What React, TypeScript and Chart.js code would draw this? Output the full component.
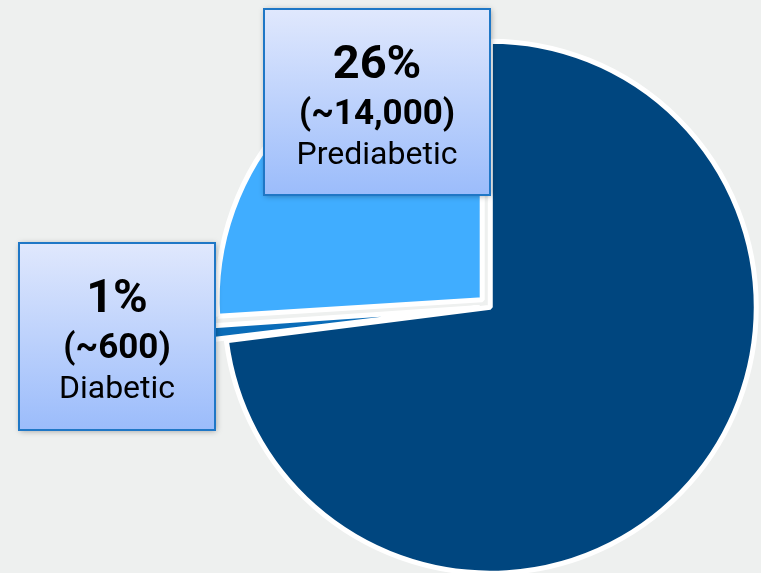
import React, { useEffect, useRef } from "react";
import { Chart, registerables } from "chart.js";

Chart.register(...registerables);

const categories = ["Normal", "Diabetic", "Prediabetic"];
const percents = [73, 1, 26];
const approxCounts = ["", "~600", "~14,000"];
const sliceColors = ["#00467f", "#0a6cb8", "#40adff"];
const sliceOffsets = [4, 40, 40];
const labelled = [false, true, true];

// label box layout (pixels) for labelled categories
const boxLayout: Record<string, { x: number; y: number; w: number; h: number }> = {
  Diabetic: { x: 19, y: 243, w: 196, h: 187 },
  Prediabetic: { x: 264, y: 9, w: 226, h: 186 },
};

const labelBoxPlugin = {
  id: "labelBoxes",
  afterDraw(chart: any) {
    const ctx = chart.ctx as CanvasRenderingContext2D;
    categories.forEach((cat, i) => {
      if (!labelled[i]) return;
      const b = boxLayout[cat];
      ctx.save();
      const g = ctx.createLinearGradient(0, b.y, 0, b.y + b.h);
      g.addColorStop(0, "#e0e8fd");
      g.addColorStop(1, "#9bbcfb");
      ctx.shadowColor = "rgba(0,0,0,0.35)";
      ctx.shadowBlur = 6;
      ctx.shadowOffsetX = 1;
      ctx.shadowOffsetY = 1;
      ctx.fillStyle = g;
      ctx.fillRect(b.x, b.y, b.w, b.h);
      ctx.shadowColor = "transparent";
      ctx.lineWidth = 2;
      ctx.strokeStyle = "#1f77c6";
      ctx.strokeRect(b.x, b.y, b.w, b.h);
      const cx = b.x + b.w / 2;
      ctx.fillStyle = "#000";
      ctx.textAlign = "center";
      ctx.textBaseline = "alphabetic";
      ctx.font = "bold 47px Roboto";
      ctx.fillText(percents[i] + "%", cx, b.y + 69);
      ctx.font = "bold 35px Roboto";
      ctx.fillText("(" + approxCounts[i] + ")", cx, b.y + 115);
      ctx.font = "32px Roboto";
      ctx.fillText(cat, cx, b.y + 155);
      ctx.restore();
    });
  },
};

export default function App() {
  const ref = useRef<HTMLCanvasElement>(null);
  useEffect(() => {
    const chart = new Chart(ref.current!, {
      type: "pie",
      data: {
        labels: categories,
        datasets: [
          {
            data: percents,
            backgroundColor: sliceColors,
            borderColor: "#ffffff",
            borderWidth: 5,
            offset: sliceOffsets,
            clip: false as any,
          },
        ],
      },
      options: {
        responsive: false,
        animation: false,
        radius: 265,
        layout: { padding: { left: 218, top: 40, right: 0, bottom: 0 } },
        plugins: {
          legend: { display: false },
          tooltip: { enabled: false },
        },
      } as any,
      plugins: [labelBoxPlugin],
    });
    return () => chart.destroy();
  }, []);
  return (
    <div
      style={{
        position: "fixed",
        left: 0,
        top: 0,
        width: 761,
        height: 573,
        overflow: "hidden",
        background: "#eef0ef",
      }}
    >
      <canvas ref={ref} width={761} height={573} />
    </div>
  );
}
